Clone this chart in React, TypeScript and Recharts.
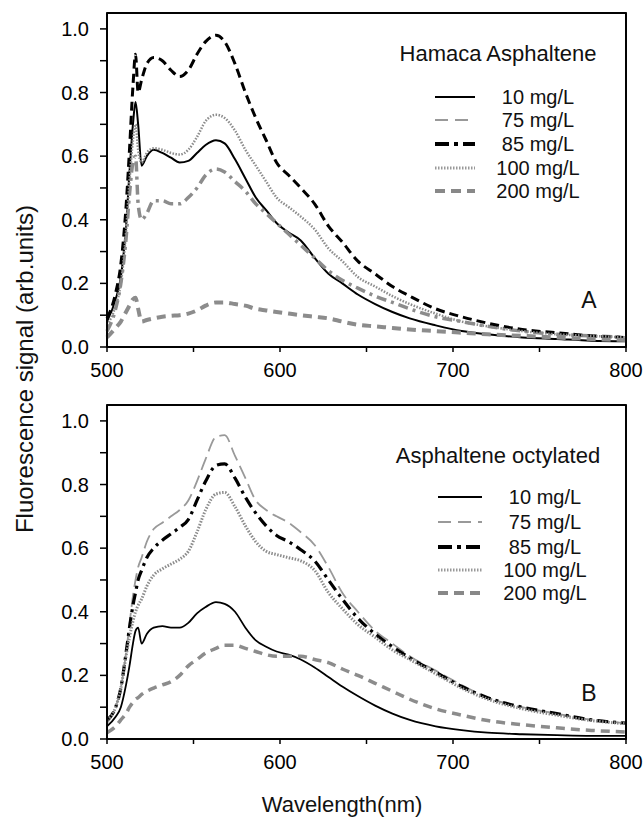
import { LineChart, Line, XAxis, YAxis, ReferenceArea } from 'recharts'

const wavelengths = [500, 505, 508, 511, 513, 515, 516.5, 518, 520, 523, 527, 532, 537, 542, 547, 552, 557, 563, 568, 574, 580, 586, 592, 598, 605, 612, 620, 628, 636, 645, 655, 665, 675, 690, 705, 720, 740, 760, 780, 800]

// panel A - Hamaca asphaltene
const hamaca10 = [0.08, 0.15, 0.22, 0.38, 0.55, 0.7, 0.77, 0.7, 0.57, 0.6, 0.62, 0.61, 0.595, 0.58, 0.585, 0.61, 0.635, 0.65, 0.64, 0.59, 0.53, 0.47, 0.43, 0.39, 0.36, 0.335, 0.28, 0.23, 0.2, 0.165, 0.135, 0.11, 0.09, 0.068, 0.05, 0.04, 0.03, 0.025, 0.02, 0.018]
const hamaca75 = [0.05, 0.12, 0.2, 0.34, 0.48, 0.58, 0.6, 0.45, 0.4, 0.42, 0.46, 0.46, 0.45, 0.45, 0.47, 0.5, 0.54, 0.56, 0.55, 0.52, 0.49, 0.45, 0.42, 0.39, 0.355, 0.32, 0.28, 0.24, 0.21, 0.185, 0.16, 0.14, 0.12, 0.095, 0.08, 0.065, 0.05, 0.04, 0.035, 0.03]
const hamaca85 = [0.09, 0.17, 0.26, 0.44, 0.62, 0.82, 0.92, 0.8, 0.84, 0.89, 0.91, 0.9, 0.87, 0.85, 0.87, 0.92, 0.96, 0.98, 0.96, 0.89, 0.8, 0.72, 0.65, 0.58, 0.54, 0.5, 0.45, 0.38, 0.33, 0.27, 0.23, 0.19, 0.16, 0.12, 0.095, 0.075, 0.055, 0.045, 0.035, 0.03]
const hamaca100 = [0.07, 0.13, 0.2, 0.36, 0.52, 0.65, 0.7, 0.62, 0.58, 0.61, 0.625, 0.62, 0.61, 0.605, 0.62, 0.66, 0.71, 0.73, 0.72, 0.68, 0.62, 0.57, 0.52, 0.47, 0.44, 0.41, 0.37, 0.31, 0.27, 0.22, 0.19, 0.16, 0.135, 0.105, 0.08, 0.065, 0.05, 0.04, 0.035, 0.03]
const hamaca200 = [0.03, 0.06, 0.08, 0.11, 0.13, 0.15, 0.155, 0.12, 0.08, 0.085, 0.09, 0.095, 0.098, 0.1, 0.105, 0.115, 0.13, 0.14, 0.14, 0.135, 0.13, 0.12, 0.115, 0.11, 0.105, 0.1, 0.095, 0.09, 0.08, 0.07, 0.065, 0.06, 0.055, 0.05, 0.045, 0.04, 0.035, 0.03, 0.025, 0.022]

// panel B - octylated asphaltene
const octyl10 = [0.04, 0.07, 0.1, 0.17, 0.23, 0.3, 0.34, 0.35, 0.3, 0.33, 0.35, 0.355, 0.35, 0.35, 0.365, 0.395, 0.415, 0.43, 0.425, 0.4, 0.35, 0.31, 0.29, 0.275, 0.265, 0.25, 0.225, 0.195, 0.165, 0.135, 0.105, 0.08, 0.06, 0.04, 0.028, 0.02, 0.015, 0.012, 0.01, 0.01]
const octyl75 = [0.05, 0.1, 0.16, 0.27, 0.36, 0.45, 0.5, 0.54, 0.57, 0.62, 0.66, 0.68, 0.7, 0.72, 0.75, 0.81, 0.88, 0.95, 0.955, 0.89, 0.82, 0.75, 0.72, 0.7, 0.68, 0.65, 0.61, 0.54, 0.46, 0.4, 0.34, 0.3, 0.26, 0.215, 0.17, 0.13, 0.1, 0.08, 0.06, 0.05]
const octyl85 = [0.06, 0.1, 0.16, 0.27, 0.35, 0.42, 0.46, 0.5, 0.53, 0.57, 0.6, 0.625, 0.645, 0.665, 0.69, 0.75, 0.81, 0.86, 0.865, 0.82, 0.76, 0.71, 0.67, 0.64, 0.62, 0.595, 0.56, 0.5, 0.44, 0.38, 0.33, 0.29, 0.255, 0.21, 0.165, 0.13, 0.1, 0.08, 0.06, 0.05]
const octyl100 = [0.06, 0.1, 0.16, 0.26, 0.32, 0.37, 0.4, 0.42, 0.44, 0.48, 0.515, 0.535, 0.55, 0.565, 0.59, 0.65, 0.72, 0.77, 0.775, 0.73, 0.67, 0.62, 0.59, 0.58, 0.57, 0.56, 0.53, 0.46, 0.41, 0.36, 0.32, 0.28, 0.25, 0.205, 0.16, 0.125, 0.095, 0.075, 0.058, 0.048]
const octyl200 = [0.02, 0.04, 0.06, 0.08, 0.1, 0.115, 0.125, 0.13, 0.14, 0.15, 0.16, 0.17, 0.18, 0.2, 0.23, 0.25, 0.27, 0.285, 0.295, 0.295, 0.285, 0.275, 0.265, 0.26, 0.26, 0.26, 0.25, 0.24, 0.22, 0.2, 0.175, 0.15, 0.125, 0.095, 0.075, 0.058, 0.045, 0.035, 0.027, 0.022]

const concLabels = ['10 mg/L', '75 mg/L', '85 mg/L', '100 mg/L', '200 mg/L']
const xTicks = [500, 550, 600, 650, 700, 750, 800]
const yTicks = [0, 0.1, 0.2, 0.3, 0.4, 0.5, 0.6, 0.7, 0.8, 0.9, 1.0]

const FONT = '"Liberation Sans", Arial, Helvetica, sans-serif'

// chart box: plot area is x 107..626, y 13..347 inside each 643x400 panel
const PLOT = { left: 107, top: 13, width: 519, height: 334 }

type Style = { color: string; width: number; dash?: string }

// line styles as they appear in the legend
const legendStyles: Style[] = [
  { color: '#000', width: 2 },
  { color: '#999', width: 2, dash: '13 7' },
  { color: '#000', width: 4, dash: '14 5 4 5' },
  { color: '#999', width: 3, dash: '1.5 1.5' },
  { color: '#888', width: 4, dash: '10 6' },
]

// panel A curves are not drawn exactly like the legend
const stylesA: Style[] = [
  { color: '#000', width: 2 },
  { color: '#8c8c8c', width: 3.5, dash: '10 5 3 5' },
  { color: '#000', width: 3, dash: '9 5' },
  { color: '#8c8c8c', width: 2.5, dash: '1.5 1.5' },
  { color: '#8c8c8c', width: 4, dash: '9 6' },
]

const stylesB: Style[] = [
  { color: '#000', width: 1.8 },
  { color: '#999', width: 1.8, dash: '14 6' },
  { color: '#000', width: 3.2, dash: '11 5 3 5' },
  { color: '#8c8c8c', width: 3, dash: '1.5 1.5' },
  { color: '#8c8c8c', width: 3.5, dash: '9 6' },
]

const keys = ['c10', 'c75', 'c85', 'c100', 'c200']

function buildRows(series: number[][]) {
  return wavelengths.map((wl, i) => {
    const row: Record<string, number> = { wl }
    keys.forEach((k, j) => {
      row[k] = series[j][i]
    })
    return row
  })
}

const rowsA = buildRows([hamaca10, hamaca75, hamaca85, hamaca100, hamaca200])
const rowsB = buildRows([octyl10, octyl75, octyl85, octyl100, octyl200])

const lineStyle = { stroke: '#000', strokeWidth: 1.5 }

// only every 100 nm gets a label
function XTick(props: any) {
  const { x, y, payload } = props
  if (payload.value % 100 !== 0) return <g />
  return (
    <text x={x} y={y} dy="0.71em" textAnchor="middle" fontSize={20} fontFamily={FONT} fill="#000">
      {payload.value}
    </text>
  )
}

// only every 0.2 gets a label
function YTick(props: any) {
  const { x, y, payload } = props
  if (Math.round(payload.value * 10) % 2 !== 0) return <g />
  return (
    <text x={x} y={y} dy="0.355em" textAnchor="end" fontSize={20} fontFamily={FONT} fill="#000">
      {payload.value.toFixed(1)}
    </text>
  )
}

interface PanelProps {
  top: number
  rows: Record<string, number>[]
  styles: Style[]
  title: string
  titleY: number
  rowY: number[]
  sampleX: [number, number]
  textX: number
  letter: string
  letterY: number
}

function Panel({ top, rows, styles, title, titleY, rowY, sampleX, textX, letter, letterY }: PanelProps) {
  return (
    <div style={{ position: 'absolute', left: 0, top, width: 643, height: 400 }}>
      {/* mirrored axes take no room, so the margins alone give PLOT */}
      <LineChart width={643} height={400} data={rows} margin={{ top: 13, right: 17, bottom: 23, left: 47 }}>
        <XAxis
          dataKey="wl"
          type="number"
          domain={[500, 800]}
          ticks={xTicks}
          tick={XTick}
          axisLine={lineStyle}
          tickLine={lineStyle}
          tickSize={5}
          tickMargin={11}
          height={30}
        />
        <XAxis
          xAxisId="top"
          orientation="top"
          dataKey="wl"
          type="number"
          domain={[500, 800]}
          ticks={xTicks}
          tick={false}
          mirror
          axisLine={lineStyle}
          tickLine={lineStyle}
          tickSize={5}
        />
        <YAxis
          type="number"
          domain={[0, 1.05]}
          ticks={yTicks}
          tick={YTick}
          axisLine={lineStyle}
          tickLine={lineStyle}
          tickSize={7}
          tickMargin={11}
          width={60}
        />
        <YAxis
          yAxisId="right"
          orientation="right"
          type="number"
          domain={[0, 1.05]}
          ticks={yTicks}
          tick={false}
          mirror
          axisLine={lineStyle}
          tickLine={lineStyle}
          tickSize={7}
        />
        <ReferenceArea x1={500} x2={800} y1={0} y2={1.05} fill="none" stroke="#000" strokeWidth={1.5} ifOverflow="visible" />
        {keys.map((k, i) => (
          <Line
            key={k}
            dataKey={k}
            type="monotone"
            stroke={styles[i].color}
            strokeWidth={styles[i].width}
            strokeDasharray={styles[i].dash}
            dot={false}
            activeDot={false}
            isAnimationActive={false}
          />
        ))}
        {/* invisible copy so the top/right tick axes get drawn */}
        <Line
          xAxisId="top"
          yAxisId="right"
          dataKey="c10"
          stroke="none"
          dot={false}
          activeDot={false}
          legendType="none"
          isAnimationActive={false}
        />
      </LineChart>
      <svg width={643} height={400} style={{ position: 'absolute', left: 0, top: 0, pointerEvents: 'none' }}>
        {/* box frame, axis lines did not show up in the render */}
        <rect x={PLOT.left} y={PLOT.top} width={PLOT.width} height={PLOT.height} fill="none" stroke="#000" strokeWidth={1.5} />
        <text x={498} y={titleY} textAnchor="middle" dominantBaseline="central" fontSize={22} fontFamily={FONT} fill="#111">
          {title}
        </text>
        {concLabels.map((label, i) => (
          <g key={label}>
            <line
              x1={sampleX[0]}
              x2={sampleX[1]}
              y1={rowY[i]}
              y2={rowY[i]}
              stroke={legendStyles[i].color}
              strokeWidth={legendStyles[i].width}
              strokeDasharray={legendStyles[i].dash}
            />
            <text x={textX} y={rowY[i]} textAnchor="middle" dominantBaseline="central" fontSize={20} fontFamily={FONT} fill="#111">
              {label}
            </text>
          </g>
        ))}
        <text x={589} y={letterY} textAnchor="middle" dominantBaseline="central" fontSize={23} fontFamily={FONT} fill="#111">
          {letter}
        </text>
      </svg>
    </div>
  )
}

export default function App() {
  return (
    <div style={{ position: 'absolute', left: 0, top: 0, width: 643, height: 819, background: '#fff', fontFamily: FONT }}>
      <Panel
        top={0}
        rows={rowsA}
        styles={stylesA}
        title="Hamaca Asphaltene"
        titleY={53}
        rowY={[97, 120, 144, 168, 191]}
        sampleX={[435, 475]}
        textX={538}
        letter="A"
        letterY={300}
      />
      <Panel
        top={392}
        rows={rowsB}
        styles={stylesB}
        title="Asphaltene octylated"
        titleY={63}
        rowY={[105, 130, 155, 178, 201]}
        sampleX={[438, 482]}
        textX={545}
        letter="B"
        letterY={301}
      />
      <svg width={643} height={819} style={{ position: 'absolute', left: 0, top: 0, pointerEvents: 'none' }}>
        <text
          x={24}
          y={369}
          transform="rotate(-90 24 369)"
          textAnchor="middle"
          dominantBaseline="central"
          fontSize={24}
          fontFamily={FONT}
          fill="#111"
        >
          Fluorescence signal (arb.units)
        </text>
        <text x={342} y={804} textAnchor="middle" dominantBaseline="central" fontSize={22} fontFamily={FONT} fill="#111">
          Wavelength(nm)
        </text>
      </svg>
    </div>
  )
}
